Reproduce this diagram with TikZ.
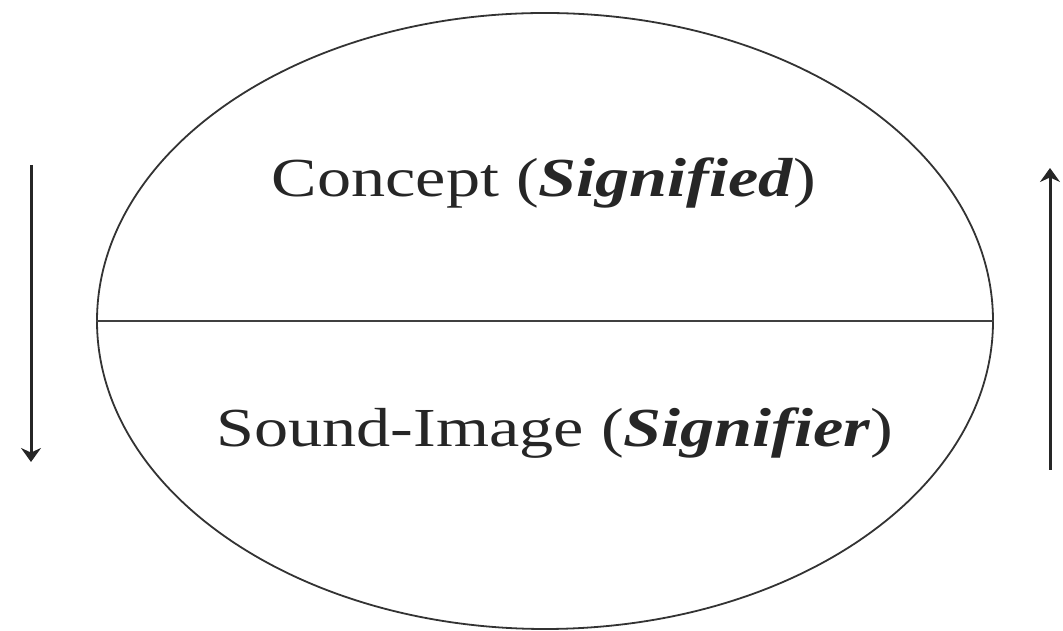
\documentclass[tikz,border=0pt]{standalone}
\usepackage{fontspec}
\setmainfont{Liberation Serif}
\usetikzlibrary{arrows.meta,shapes.geometric}
\begin{document}
\begin{tikzpicture}[x=1pt,y=1pt,
  lbl/.style={anchor=base,inner sep=0pt,xscale=1.24,text=black!85,font=\fontsize{55}{62}\selectfont},
  arr/.style={line width=3pt,draw=black!85,-{Stealth[length=14pt,width=20pt]}}]
\useasboundingbox (0,0) rectangle (1063,631);
\node[draw=black!80,line width=1.8pt,ellipse,minimum width=896pt,minimum height=616pt,inner sep=0pt] (ell) at (545,310) {};
\draw[black!75,line width=2.2pt] (ell.west) -- (ell.east);
\node[lbl] (top) at (544,434) {Concept (\textbf{\textit{Signified}})};
\node[lbl] (bot) at (555,184) {Sound-Image (\textbf{\textit{Signifier}})};
\coordinate (la) at (31,466);
\coordinate (lb) at (31,169);
\coordinate (ra) at (1050,161);
\coordinate (rb) at (1050,463);
\draw[arr] (la) -- (lb);
\draw[arr] (ra) -- (rb);
\end{tikzpicture}
\end{document}
